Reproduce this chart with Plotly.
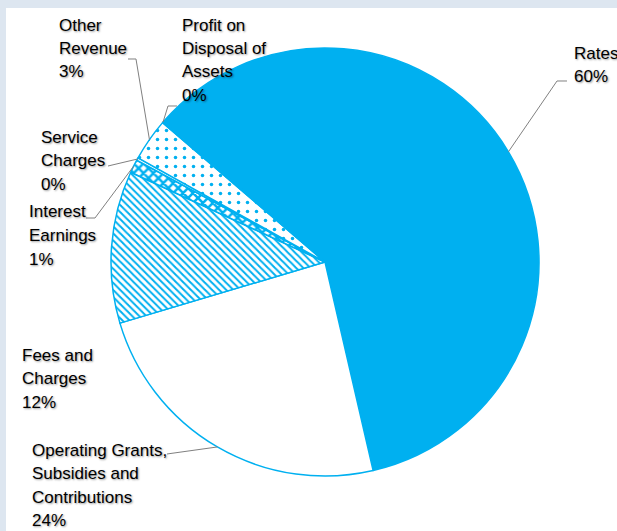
import math
import plotly.graph_objects as go

# Revenue mix (% of total)
categories = [
    "Rates",
    "Operating Grants, Subsidies and Contributions",
    "Fees and Charges",
    "Interest Earnings",
    "Service Charges",
    "Other Revenue",
    "Profit on Disposal of Assets",
]
shares = [60.0, 24.0, 11.5, 1.0, 0.2, 3.2, 0.1]
label_lines = [
    ["Rates"],
    ["Operating Grants,", "Subsidies and", "Contributions"],
    ["Fees and", "Charges"],
    ["Interest", "Earnings"],
    ["Service", "Charges"],
    ["Other", "Revenue"],
    ["Profit on", "Disposal of", "Assets"],
]

BLUE = "#00b0f0"
W, H = 617, 531
CX, CY, R = 325, 262, 214          # pie centre / radius in pixels
START = 311                         # first slice start angle (deg, clockwise from 12 o'clock)

fills = [BLUE, "white", "white", "white", "white", "white", "white"]
patterns = ["", "", "\\", "x", "", ".", ""]
pat_size = [8, 8, 5, 7, 8, 9, 8]
pat_solid = [0.3, 0.3, 0.4, 0.6, 0.3, 0.12, 0.3]

# label placement (left x, centre y of first line) and leader elbows, in pixels
label_pos = [(572, 53), (30, 450), (20, 355), (27, 212), (39, 137), (57, 25), (180, 25)]
leader_elbows = [
    [(567, 81), (557, 81)],
    [(167, 454)],
    None,
    [(86, 218), (95, 218)],
    [(108, 166)],
    [(128, 59), (136, 59)],
    [(177, 106), (168, 106)],
]
LINE_STEP = 23.5


def px(x):
    return x / W


def py(y):
    return 1 - y / H


fig = go.Figure(
    go.Pie(
        labels=categories,
        values=shares,
        sort=False,
        direction="clockwise",
        rotation=START,
        textinfo="none",
        hoverinfo="label+percent",
        showlegend=False,
        marker=dict(
            colors=fills,
            line=dict(color=BLUE, width=1.5),
            pattern=dict(
                shape=patterns,
                fgcolor=BLUE,
                bgcolor="white",
                size=pat_size,
                solidity=pat_solid,
            ),
        ),
        domain=dict(
            x=[px(CX - R), px(CX + R)],
            y=[py(CY + R), py(CY - R)],
        ),
    )
)

total = sum(shares)
font = dict(
    family="Liberation Sans, Arial, sans-serif",
    size=17,
    color="#000000",
    shadow="1px 1px 2px rgba(0,0,0,0.4)",
)

annotations = []
shapes = [
    dict(type="rect", xref="paper", yref="paper", x0=px(6), x1=1, y0=0, y1=py(8),
         fillcolor="white", line=dict(width=0), layer="below"),
]

cum = 0.0
for i, v in enumerate(shares):
    mid = START + (cum + v / 2) / total * 360
    cum += v
    ex = CX + R * math.sin(math.radians(mid))
    ey = CY - R * math.cos(math.radians(mid))

    lines = label_lines[i] + [f"{round(v / total * 100)}%"]
    lx, ly = label_pos[i]
    for k, t in enumerate(lines):
        annotations.append(dict(
            text=t, x=px(lx), y=py(ly + k * LINE_STEP), xref="paper", yref="paper",
            xanchor="left", yanchor="middle", showarrow=False, font=font, align="left",
        ))

    elbows = leader_elbows[i]
    if elbows:
        pts = elbows + [(ex, ey)]
        path = "M " + " L ".join(f"{px(a):.5f},{py(b):.5f}" for a, b in pts)
        shapes.append(dict(type="path", path=path, xref="paper", yref="paper",
                           line=dict(color="#808080", width=1), layer="above"))

fig.update_layout(
    width=W,
    height=H,
    margin=dict(l=0, r=0, t=0, b=0),
    paper_bgcolor="#dde6f0",
    plot_bgcolor="white",
    annotations=annotations,
    shapes=shapes,
)

fig.write_html("out.html")
